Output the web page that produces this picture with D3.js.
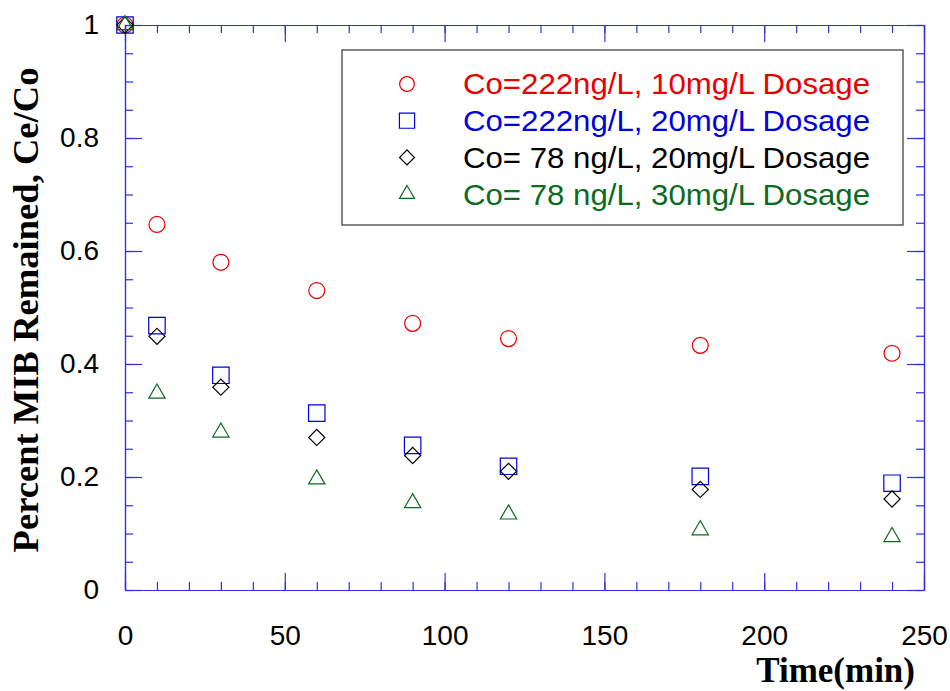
<!DOCTYPE html>
<html>
<head>
<meta charset="utf-8">
<script src="https://cdn.jsdelivr.net/npm/d3@7"></script>
<style>
  body { margin: 0; background: #fff; }
  svg { display: block; }
</style>
</head>
<body>
<svg id="chart" width="950" height="691"></svg>
<script>
// data
const times = [0, 10, 30, 60, 90, 120, 180, 240];
const red10 = [1, 0.647, 0.580, 0.530, 0.472, 0.445, 0.433, 0.419];
const blue20 = [1, 0.468, 0.380, 0.313, 0.256, 0.219, 0.201, 0.189];
const black20 = [1, 0.449, 0.359, 0.270, 0.238, 0.210, 0.178, 0.161];
const green30 = [1, 0.348, 0.279, 0.196, 0.154, 0.134, 0.106, 0.094];
const xTicks = [0, 50, 100, 150, 200, 250];
const yTicks = [0, 0.2, 0.4, 0.6, 0.8, 1];
const legendLabels = [
  "Co=222ng/L, 10mg/L Dosage",
  "Co=222ng/L, 20mg/L Dosage",
  "Co= 78 ng/L, 20mg/L Dosage",
  "Co= 78 ng/L, 30mg/L Dosage"
];

const series = [
  {vals: red10, color: "#e60000", shape: "circle"},
  {vals: blue20, color: "#0000dd", shape: "square"},
  {vals: black20, color: "#000000", shape: "diamond"},
  {vals: green30, color: "#0b6b1f", shape: "triangle"}
];

const svg = d3.select("#chart");
const margin = {top: 25, right: 26, bottom: 101, left: 125};
const width = 950, height = 691;
const axisColor = "#3030e0";

const x = d3.scaleLinear().domain([0, 250]).range([margin.left, width - margin.right]);
const y = d3.scaleLinear().domain([0, 1]).range([height - margin.bottom, margin.top]);

const gAxes = svg.append("g");

// frame ticks, inward, on all four sides
const xMinor = d3.range(0, 251, 10);
const yMinor = d3.range(0, 1.0001, 0.05);

const axBottom = d3.axisBottom(x).tickValues(xTicks).tickSize(-17).tickSizeOuter(0);
const axTop = d3.axisTop(x).tickValues(xTicks).tickSize(-17).tickFormat("").tickSizeOuter(0);
const axLeft = d3.axisLeft(y).tickValues(yTicks).tickSize(-17).tickPadding(26).tickSizeOuter(0)
  .tickFormat(d => d === 0 || d === 1 ? d3.format("d")(d) : d3.format(".1f")(d));
const axRight = d3.axisRight(y).tickValues(yTicks).tickSize(-17).tickFormat("").tickSizeOuter(0);

function minor(axis, vals) {
  return axis.tickValues(vals).tickSize(-8).tickFormat("").tickSizeOuter(0);
}

gAxes.append("g").attr("transform", `translate(0,${y(0)})`).call(minor(d3.axisBottom(x), xMinor));
gAxes.append("g").attr("transform", `translate(0,${y(1)})`).call(minor(d3.axisTop(x), xMinor));
gAxes.append("g").attr("transform", `translate(${x(0)},0)`).call(minor(d3.axisLeft(y), yMinor));
gAxes.append("g").attr("transform", `translate(${x(250)},0)`).call(minor(d3.axisRight(y), yMinor));

gAxes.append("g").attr("class", "xb").attr("transform", `translate(0,${y(0)})`).call(axBottom);
gAxes.append("g").attr("transform", `translate(0,${y(1)})`).call(axTop);
gAxes.append("g").attr("class", "yl").attr("transform", `translate(${x(0)},0)`).call(axLeft);
gAxes.append("g").attr("transform", `translate(${x(250)},0)`).call(axRight);

gAxes.selectAll("path.domain, line").attr("stroke", axisColor).attr("stroke-width", 1.2);
gAxes.selectAll("text")
  .attr("fill", "#000")
  .style("font-family", "'Liberation Sans', Arial, sans-serif")
  .style("font-size", "28px");
gAxes.selectAll(".xb text").attr("y", 55).attr("dy", 0);

// axis titles
svg.append("text")
  .attr("x", 915).attr("y", 682)
  .attr("text-anchor", "end")
  .style("font-family", "'Liberation Serif', 'Times New Roman', serif")
  .style("font-weight", "bold")
  .style("font-size", "35px")
  .text("Time(min)");

svg.append("text")
  .attr("transform", `translate(38,${310}) rotate(-90)`)
  .attr("text-anchor", "middle")
  .style("font-family", "'Liberation Serif', 'Times New Roman', serif")
  .style("font-weight", "bold")
  .style("font-size", "36.6px")
  .text("Percent MIB Remained, Ce/Co");

// markers
const symSize = {circle: 200, square: 270, diamond: 130, triangle: 115};
const symType = {circle: d3.symbolCircle, square: d3.symbolSquare, diamond: d3.symbolSquare, triangle: d3.symbolTriangle};

function drawSym(g, shape, color, k) {
  g.append("path")
    .attr("d", d3.symbol().type(symType[shape]).size(symSize[shape] * (k || 1)))
    .attr("transform", shape === "diamond" ? "rotate(45)" : null)
    .attr("fill", "none")
    .attr("stroke", color)
    .attr("stroke-width", 1.2);
}

const gPts = svg.append("g");
series.forEach(s => {
  times.forEach((t, i) => {
    const g = gPts.append("g").attr("transform", `translate(${x(t)},${y(s.vals[i])})`);
    drawSym(g, s.shape, s.color);
  });
});

// legend
const legend = svg.append("g");
legend.append("rect")
  .attr("x", 342).attr("y", 50).attr("width", 561).attr("height", 175)
  .attr("fill", "#fff").attr("stroke", "#333").attr("stroke-width", 1.2);
series.forEach((s, i) => {
  const ly = 84 + i * 36.7;
  const g = legend.append("g").attr("transform", `translate(407,${ly})`);
  drawSym(g, s.shape, s.color, 0.85);
  legend.append("text")
    .attr("x", 463).attr("y", ly).attr("dy", "0.36em")
    .attr("fill", s.color)
    .attr("textLength", 407)
    .attr("lengthAdjust", "spacingAndGlyphs")
    .style("font-family", "'Liberation Sans', Arial, sans-serif")
    .style("font-size", "29px")
    .text(legendLabels[i]);
});
</script>
</body>
</html>
